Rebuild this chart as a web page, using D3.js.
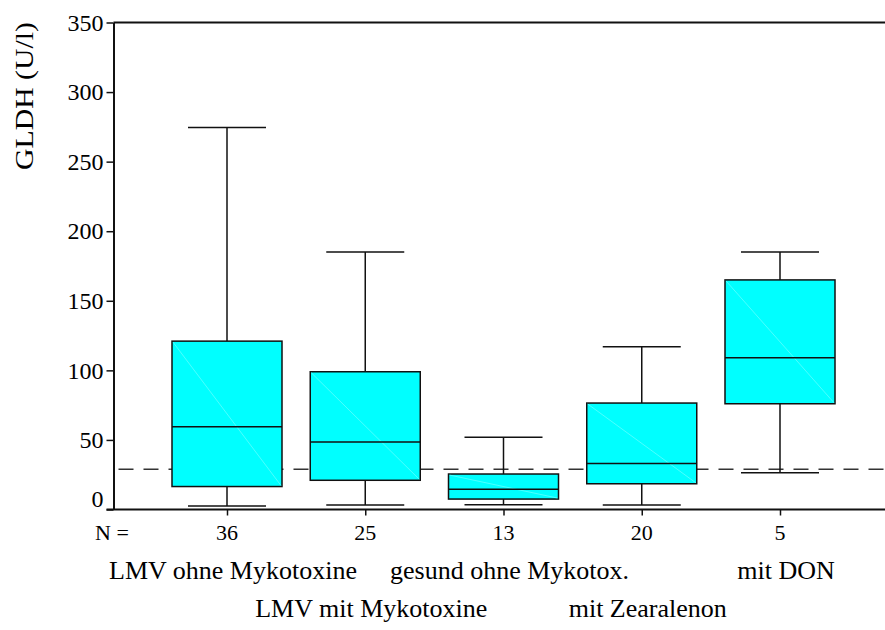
<!DOCTYPE html>
<html>
<head>
<meta charset="utf-8">
<script src="https://cdn.jsdelivr.net/npm/d3@7"></script>
<style>
  html, body { margin: 0; padding: 0; background: #fff; }
  svg { display: block; }
  text { font-family: "Liberation Serif", "Times New Roman", serif; fill: #000; }
</style>
</head>
<body>
<svg id="chart" width="885" height="630"></svg>
<script>
// ---- data ----
const categories = ["LMV ohne Mykotoxine", "LMV mit Mykotoxine", "gesund ohne Mykotox.", "mit Zearalenon", "mit DON"];
const nValues    = [36, 25, 13, 20, 5];
const whiskerLow = [2.5, 3.2, 3.4, 3.2, 26.5];
const q1Values   = [16.5, 21, 7.5, 18.5, 76];
const medians    = [59.5, 48.5, 14.5, 33, 109];
const q3Values   = [121, 99, 25.5, 76.5, 165];
const whiskerHigh= [274.5, 185, 52, 117, 185];
const refValue   = 29;
const yTicks     = [0, 50, 100, 150, 200, 250, 300, 350];
const yLabel     = "GLDH (U/l)";
const nLabel     = "N =";

// ---- layout ----
const serifFont = '"Liberation Serif", "Times New Roman", serif';
const svg = d3.select("#chart");
const plotLeft = 113.5, plotRight = 886, plotTop = 22.5, plotBottom = 509.5;
const y = d3.scaleLinear().domain([0, 350]).range([plotBottom, plotTop]);
const x = d3.scalePoint().domain(categories).range([227, 780]);
const boxW = 110, capW = 78;

svg.append("rect").attr("width", 885).attr("height", 630).attr("fill", "#fff");

// reference dashed line
svg.append("line")
  .attr("x1", plotLeft).attr("x2", 885)
  .attr("y1", y(refValue)).attr("y2", y(refValue))
  .attr("stroke", "#333").attr("stroke-width", 1.5)
  .attr("stroke-dasharray", "15,10").attr("stroke-dashoffset", -5);

// boxes
const data = categories.map((c, i) => ({
  c, lo: whiskerLow[i], q1: q1Values[i], med: medians[i], q3: q3Values[i], hi: whiskerHigh[i]
}));
const g = svg.append("g").selectAll("g").data(data).join("g");
g.append("line").attr("x1", d => x(d.c)).attr("x2", d => x(d.c))
  .attr("y1", d => y(d.hi)).attr("y2", d => y(d.q3)).attr("stroke", "#111").attr("stroke-width", 1.5);
g.append("line").attr("x1", d => x(d.c)).attr("x2", d => x(d.c))
  .attr("y1", d => y(d.q1)).attr("y2", d => y(d.lo)).attr("stroke", "#111").attr("stroke-width", 1.5);
g.append("line").attr("x1", d => x(d.c) - capW / 2).attr("x2", d => x(d.c) + capW / 2)
  .attr("y1", d => y(d.hi)).attr("y2", d => y(d.hi)).attr("stroke", "#111").attr("stroke-width", 1.5);
g.append("line").attr("x1", d => x(d.c) - capW / 2).attr("x2", d => x(d.c) + capW / 2)
  .attr("y1", d => y(d.lo)).attr("y2", d => y(d.lo)).attr("stroke", "#111").attr("stroke-width", 1.5);
g.append("rect")
  .attr("x", d => x(d.c) - boxW / 2).attr("width", boxW)
  .attr("y", d => y(d.q3)).attr("height", d => y(d.q1) - y(d.q3))
  .attr("fill", "#00ffff").attr("stroke", "#111").attr("stroke-width", 1.5);
g.append("line")
  .attr("x1", d => x(d.c) - boxW / 2 + 1).attr("y1", d => y(d.q3) + 1)
  .attr("x2", d => x(d.c) + boxW / 2 - 1).attr("y2", d => y(d.q1) - 1)
  .attr("stroke", "#80ffff").attr("stroke-width", 0.6);
g.append("line").attr("x1", d => x(d.c) - boxW / 2).attr("x2", d => x(d.c) + boxW / 2)
  .attr("y1", d => y(d.med)).attr("y2", d => y(d.med)).attr("stroke", "#111").attr("stroke-width", 1.5);

// top frame line
svg.append("line").attr("x1", plotLeft).attr("x2", plotRight).attr("y1", plotTop).attr("y2", plotTop)
  .attr("stroke", "#111").attr("stroke-width", 2);

// y axis
const yAxis = svg.append("g").attr("transform", `translate(${plotLeft},0)`)
  .call(d3.axisLeft(y).tickValues(yTicks).tickSize(7).tickPadding(3).tickSizeOuter(0).tickFormat(d3.format("d")));
yAxis.attr("font-family", null);
yAxis.select(".domain").attr("stroke", "#111").attr("stroke-width", 2);
yAxis.selectAll(".tick line").attr("stroke", "#111").attr("stroke-width", 1.5);
yAxis.selectAll(".tick text")
  .style("font-family", serifFont).style("font-size", "24px").attr("fill", "#000")
  .attr("dy", d => d === 0 ? "-0.13em" : "0.32em");

// x axis
const xAxis = svg.append("g").attr("transform", `translate(0,${plotBottom})`)
  .call(d3.axisBottom(x).tickSize(6).tickSizeOuter(0).tickFormat(""));
xAxis.select(".domain").remove();
xAxis.selectAll(".tick line").attr("stroke", "#111").attr("stroke-width", 1.5);
svg.append("line").attr("x1", plotLeft - 7).attr("x2", plotRight).attr("y1", plotBottom).attr("y2", plotBottom)
  .attr("stroke", "#111").attr("stroke-width", 2);

// N row
svg.append("text").attr("x", 95).attr("y", 540)
  .style("font-family", serifFont).style("font-size", "22px").text(nLabel);
svg.append("g").selectAll("text").data(categories).join("text")
  .attr("x", d => x(d)).attr("y", 540).attr("text-anchor", "middle")
  .style("font-family", serifFont).style("font-size", "22px").text((d, i) => nValues[i]);

// category labels (alternating rows)
svg.append("g").selectAll("text").data(categories).join("text")
  .attr("x", d => x(d) + 6).attr("y", (d, i) => i % 2 === 0 ? 579 : 617)
  .attr("text-anchor", "middle")
  .style("font-family", serifFont).style("font-size", "26px").text(d => d);

// y label
svg.append("text")
  .attr("transform", "translate(33,96) rotate(-90)")
  .attr("text-anchor", "middle")
  .style("font-family", serifFont).style("font-size", "26px")
  .attr("textLength", 148).attr("lengthAdjust", "spacingAndGlyphs")
  .text(yLabel);
</script>
</body>
</html>
